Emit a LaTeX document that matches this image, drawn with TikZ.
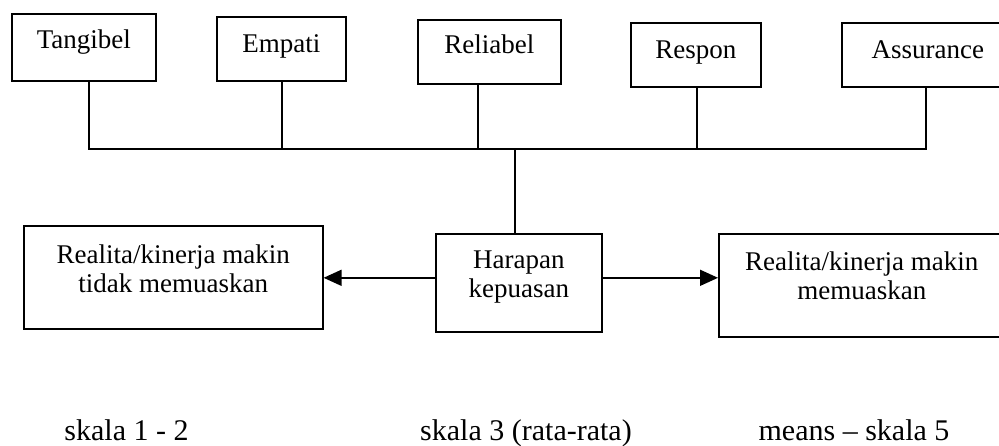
\documentclass[tikz,border=0pt]{standalone}
\usepackage{fontspec}
\setmainfont{Liberation Serif}
\usetikzlibrary{arrows.meta}

\begin{document}
\begin{tikzpicture}[x=0.5pt,y=-0.5pt,line width=0.8pt,
  dim node/.style={draw,rectangle,inner sep=0pt,anchor=north west,font=\fontsize{13.5}{14.5}\selectfont},
  out node/.style={dim node,align=center},
  scale label/.style={anchor=base,font=\fontsize{15}{18}\selectfont}]

  \useasboundingbox (0,0) rectangle (999,445);

  \node[dim node,minimum width=72pt,text height=17.5pt,text depth=16pt] (tan) at (11,13) {Tangibel};
  \node[dim node,minimum width=64.5pt,text height=18pt,text depth=14pt] (emp) at (216,16) {Empati};
  \node[dim node,minimum width=71.5pt,text height=17pt,text depth=15pt] (rel) at (417,19) {Reliabel};
  \node[dim node,minimum width=65pt,text height=18pt,text depth=14pt] (res) at (630,22) {Respon};
  \node[dim node,minimum width=86pt,text height=18pt,text depth=14pt] (asr) at (841,22) {Assurance};

  \node[out node,minimum width=83pt,text height=32pt,text depth=17pt] (hrp) at (435,233) {Harapan\\kepuasan};
  \node[out node,minimum width=149.5pt,text height=33.5pt,text depth=18pt] (lft) at (23,225) {Realita/kinerja makin\\tidak memuaskan};
  \node[out node,minimum width=143pt,text height=33pt,text depth=18.5pt] (rgt) at (718,233) {Realita/kinerja makin\\memuaskan};

  \coordinate (bus) at (515,149);
  \draw ([xshift=2.5pt]tan.south) |- (bus) -| ([xshift=-1pt]asr.south);
  \foreach \n/\d in {emp/0.25pt,rel/-5.75pt,res/0.5pt}
    \draw ([xshift=\d]\n.south) -- ([xshift=\d]\n.south |- bus);
  \draw (bus) -- (bus |- hrp.north);

  \draw[-{Triangle[length=9pt,width=8pt]}] ([yshift=2.5pt]hrp.west) -- ([yshift=2.5pt]hrp.west -| lft.east);
  \draw[-{Triangle[length=9pt,width=8pt]}] ([yshift=2.5pt]hrp.east) -- ([yshift=2.5pt]hrp.east -| rgt.west);

  \node[scale label] (s12) at (126.5,440) {skala 1 - 2};
  \node[scale label] (s3) at (526,440) {skala 3 (rata-rata)};
  \node[scale label] (s5) at (854,440) {means -- skala 5};
\end{tikzpicture}
\end{document}
